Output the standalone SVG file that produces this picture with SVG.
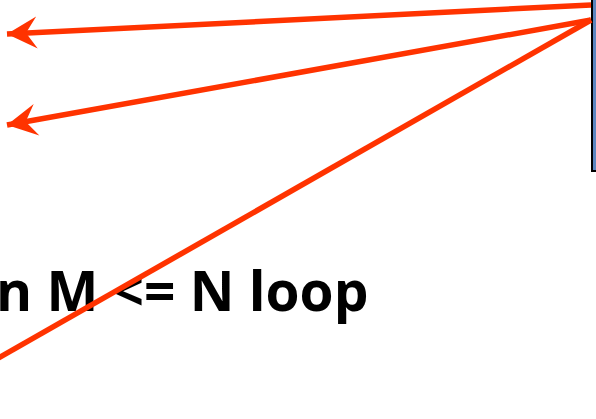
<svg xmlns="http://www.w3.org/2000/svg" width="596" height="419" viewBox="0 0 596 419">
<style>
.conn{stroke:#FF3300;stroke-width:5.5;fill:none;}
.lbl{font-family:"Open Sans","Liberation Sans",sans-serif;font-weight:bold;font-size:55px;fill:#000;}
</style>
<defs>
<marker id="ah" markerUnits="userSpaceOnUse" markerWidth="34" markerHeight="34" refX="32" refY="17" orient="auto" viewBox="0 0 34 34">
<path d="M32,17 L2,1 L13,17 L2,33 Z" fill="#FF3300"/>
</marker>
</defs>
<rect width="596" height="419" fill="#fff"/>
<g id="box">
<rect x="592" y="-5" width="10" height="176" fill="#5B86C0" stroke="#000" stroke-width="2"/>
</g>
<g id="label">
<text class="lbl" x="-4" y="311">n M &lt;= N loop</text>
</g>
<g id="connectors">
<line class="conn" x1="591" y1="5" x2="7" y2="34" marker-end="url(#ah)"/>
<line class="conn" x1="591" y1="20" x2="7" y2="125" marker-end="url(#ah)"/>
<line class="conn" x1="591" y1="20" x2="-5" y2="360"/>
</g>
</svg>
